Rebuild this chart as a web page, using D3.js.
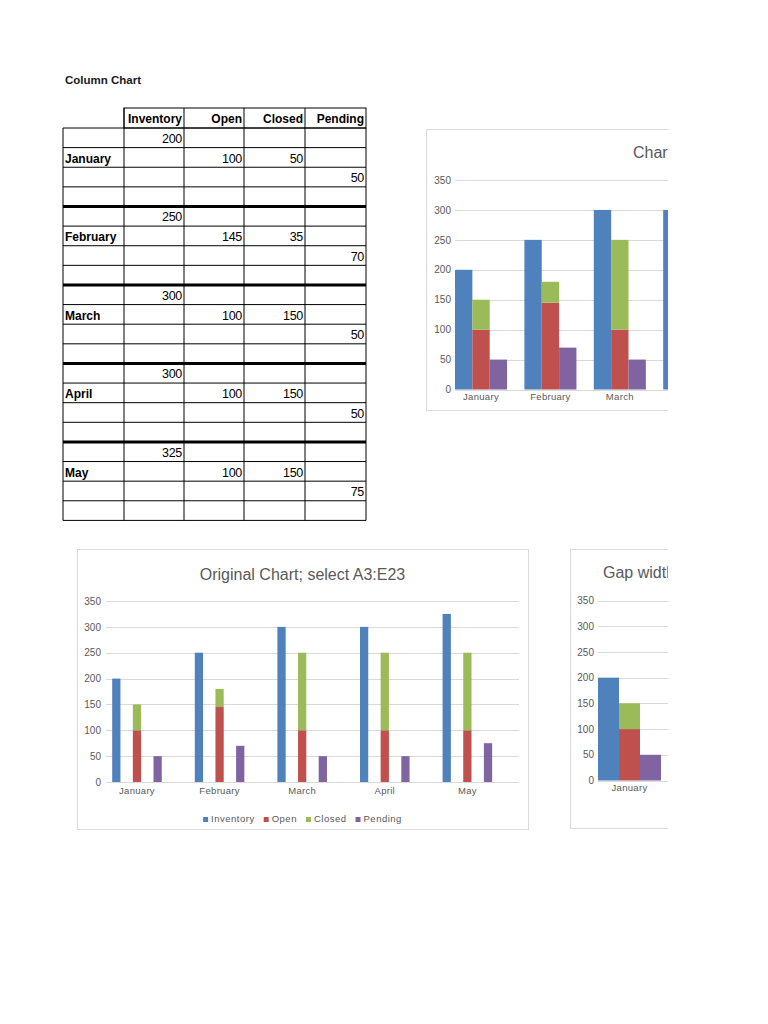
<!DOCTYPE html>
<html>
<head>
<meta charset="utf-8">
<script src="https://cdn.jsdelivr.net/npm/d3@7"></script>
<style>
  body { margin: 0; background: #fff; }
  svg { display: block; }
</style>
</head>
<body>
<svg id="page" width="768" height="1024"></svg>
<script>
// sheet values
const months = ['January', 'February', 'March', 'April', 'May'];
const inventory = [200, 250, 300, 300, 325];
const open = [100, 145, 100, 100, 100];
const closed = [50, 35, 150, 150, 150];
const pending = [50, 70, 50, 50, 75];

const seriesKeys = ['Inventory', 'Open', 'Closed', 'Pending'];
const seriesColors = ['#4F81BD', '#C0504D', '#9BBB59', '#8064A2'];
const yTicks = [0, 50, 100, 150, 200, 250, 300, 350];

// rows A3:E23 -> four rows per month
const rows = [];
months.forEach((m, i) => {
    rows.push({ label: '', Inventory: inventory[i] });
    rows.push({ label: m, Open: open[i], Closed: closed[i] });
    rows.push({ label: '', Pending: pending[i] });
    rows.push({ label: '' });
});

const svg = d3.select('#page');
const textColor = '#595959';
const gridColor = '#D9D9D9';
const chartFont = '"Liberation Sans", Arial, sans-serif';
const pageRight = 668; // the screenshot is cut here

svg.append('rect').attr('width', 768).attr('height', 1024).attr('fill', '#fff');

svg.append('defs').append('clipPath').attr('id', 'pageClip')
    .append('rect').attr('x', 0).attr('y', 0).attr('width', pageRight).attr('height', 1024);

// ---------- table ----------
function drawTable() {
    const g = svg.append('g').attr('font-family', chartFont).attr('fill', '#000');
    const colX = [63, 124, 184, 244, 305, 366];
    const headerTop = 108;
    const rowTop = 128;
    const rowH = 19.62;

    g.append('text')
        .attr('x', 65).attr('y', 84)
        .attr('font-size', '11.5px').attr('font-weight', 'bold')
        .attr('fill', '#1a1a1a')
        .text('Column Chart');

    // header cells
    g.append('rect')
        .attr('x', colX[1]).attr('y', headerTop)
        .attr('width', colX[5] - colX[1]).attr('height', rowTop - headerTop)
        .attr('fill', 'none').attr('stroke', '#000').attr('stroke-width', 1);
    seriesKeys.forEach((k, i) => {
        g.append('line')
            .attr('x1', colX[i + 1]).attr('x2', colX[i + 1])
            .attr('y1', headerTop).attr('y2', rowTop)
            .attr('stroke', '#000');
        g.append('text')
            .attr('x', colX[i + 2] - 2).attr('y', headerTop + 15)
            .attr('text-anchor', 'end')
            .attr('font-size', '12px').attr('font-weight', 'bold')
            .text(k);
    });

    const bottom = rowTop + rows.length * rowH;
    // vertical lines
    colX.forEach(x => {
        g.append('line')
            .attr('x1', x).attr('x2', x)
            .attr('y1', rowTop).attr('y2', bottom)
            .attr('stroke', '#000');
    });
    // horizontal lines, heavy between months
    d3.range(rows.length + 1).forEach(i => {
        const thick = i > 0 && i < rows.length && i % 4 === 0;
        g.append('line')
            .attr('x1', colX[0]).attr('x2', colX[5])
            .attr('y1', rowTop + i * rowH).attr('y2', rowTop + i * rowH)
            .attr('stroke', '#000')
            .attr('stroke-width', thick ? 3 : 1);
    });

    rows.forEach((r, i) => {
        const base = rowTop + i * rowH + 15;
        if (r.label) {
            g.append('text')
                .attr('x', colX[0] + 2).attr('y', base)
                .attr('font-size', '12px').attr('font-weight', 'bold')
                .text(r.label);
        }
        seriesKeys.forEach((k, j) => {
            if (r[k] !== undefined) {
                g.append('text')
                    .attr('x', colX[j + 2] - 2).attr('y', base)
                    .attr('text-anchor', 'end')
                    .attr('font-size', '12.5px')
                    .attr('letter-spacing', '-0.3px')
                    .text(r[k]);
            }
        });
    });
}

// ---------- charts ----------
const stacked = d3.stack()
    .keys(seriesKeys)
    .value((d, k) => d[k] || 0)(rows);

function drawChart(cfg) {
    const g = svg.append('g')
        .attr('clip-path', 'url(#pageClip)')
        .attr('font-family', chartFont);

    g.append('rect')
        .attr('x', cfg.box[0] + 0.5).attr('y', cfg.box[1] + 0.5)
        .attr('width', cfg.box[2]).attr('height', cfg.box[3])
        .attr('fill', '#fff').attr('stroke', gridColor);

    g.append('text')
        .attr('x', cfg.titleX).attr('y', cfg.titleY)
        .attr('text-anchor', cfg.titleAnchor)
        .attr('font-size', '16px')
        .attr('fill', textColor)
        .text(cfg.title);

    const x = d3.scaleBand()
        .domain(d3.range(rows.length))
        .range([cfg.left, cfg.left + rows.length * cfg.step])
        .paddingInner(cfg.gap)
        .paddingOuter(cfg.gap / 2);

    const y = d3.scaleLinear()
        .domain([0, 350])
        .range([cfg.zeroY, cfg.topY]);

    // gridlines
    g.append('g').selectAll('line')
        .data(yTicks)
        .join('line')
        .attr('x1', cfg.left).attr('x2', Math.min(cfg.gridRight, pageRight))
        .attr('y1', d => Math.round(y(d)) + 0.5).attr('y2', d => Math.round(y(d)) + 0.5)
        .attr('stroke', gridColor);

    const yAxis = g.append('g')
        .attr('transform', `translate(${cfg.left},0)`)
        .call(d3.axisLeft(y).tickValues(yTicks).tickSize(0).tickPadding(cfg.yPad));
    yAxis.select('.domain').remove();
    yAxis.selectAll('text')
        .attr('font-family', chartFont)
        .attr('font-size', '10px')
        .attr('fill', textColor);

    g.append('g').selectAll('g')
        .data(stacked)
        .join('g')
        .attr('fill', (d, i) => seriesColors[i])
        .selectAll('rect')
        .data(d => d.map((v, i) => ({ v, i })).filter(p => p.v[1] - p.v[0] > 0))
        .join('rect')
        .attr('x', p => x(p.i))
        .attr('width', x.bandwidth())
        .attr('y', p => y(p.v[1]))
        .attr('height', p => y(p.v[0]) - y(p.v[1]));

    const xAxis = g.append('g')
        .attr('transform', `translate(0,${cfg.zeroY})`)
        .call(d3.axisBottom(x).tickSize(0).tickPadding(cfg.xPad).tickFormat(i => rows[i].label));
    xAxis.select('.domain').remove();
    xAxis.selectAll('text')
        .attr('font-family', chartFont)
        .attr('font-size', '9.5px')
        .attr('letter-spacing', '0.3px')
        .attr('fill', textColor);
    // labels that fall past the cut edge are not in the picture
    xAxis.selectAll('.tick')
        .filter(function () {
            const t = this.querySelector('text');
            return !t.textContent || x(d3.select(this).datum()) + x.bandwidth() / 2 - t.getComputedTextLength() / 2 > pageRight;
        })
        .remove();

    if (cfg.legendY) {
        const lg = g.append('g').attr('font-size', '9.5px').attr('letter-spacing', '0.5px');
        const items = lg.selectAll('g')
            .data(seriesKeys)
            .join('g');
        items.append('rect')
            .attr('width', 5).attr('height', 5)
            .attr('y', -5)
            .attr('fill', (d, i) => seriesColors[i]);
        items.append('text')
            .attr('x', 8).attr('y', 0)
            .attr('fill', textColor)
            .text(d => d);
        const widths = [];
        items.each(function () {
            widths.push(this.querySelector('text').getComputedTextLength() + 8);
        });
        const total = d3.sum(widths) + 9 * (widths.length - 1);
        let off = cfg.legendCX - total / 2;
        items.attr('transform', (d, i) => {
            const t = `translate(${off},${cfg.legendY})`;
            off += widths[i] + 9;
            return t;
        });
    }
}

drawTable();

drawChart({
    box: [426, 129, 420, 281],
    title: 'Chart Title',
    titleX: 633, titleY: 158, titleAnchor: 'start',
    left: 455, step: 17.35, gap: 0,
    zeroY: 389.5, topY: 180,
    gridRight: 830,
    yPad: 4, xPad: 4
});

drawChart({
    box: [77, 549, 451, 280],
    title: 'Original Chart; select A3:E23',
    titleX: 302.5, titleY: 580, titleAnchor: 'middle',
    left: 106, step: 20.65, gap: 0.6,
    zeroY: 782, topY: 601,
    gridRight: 519,
    yPad: 5, xPad: 5,
    legendY: 822, legendCX: 302.5
});

drawChart({
    box: [570, 549, 480, 279],
    title: 'Gap width 0',
    titleX: 603, titleY: 578, titleAnchor: 'start',
    left: 598, step: 21, gap: 0,
    zeroY: 780.5, topY: 600.5,
    gridRight: 1040,
    yPad: 4, xPad: 4
});
</script>
</body>
</html>
